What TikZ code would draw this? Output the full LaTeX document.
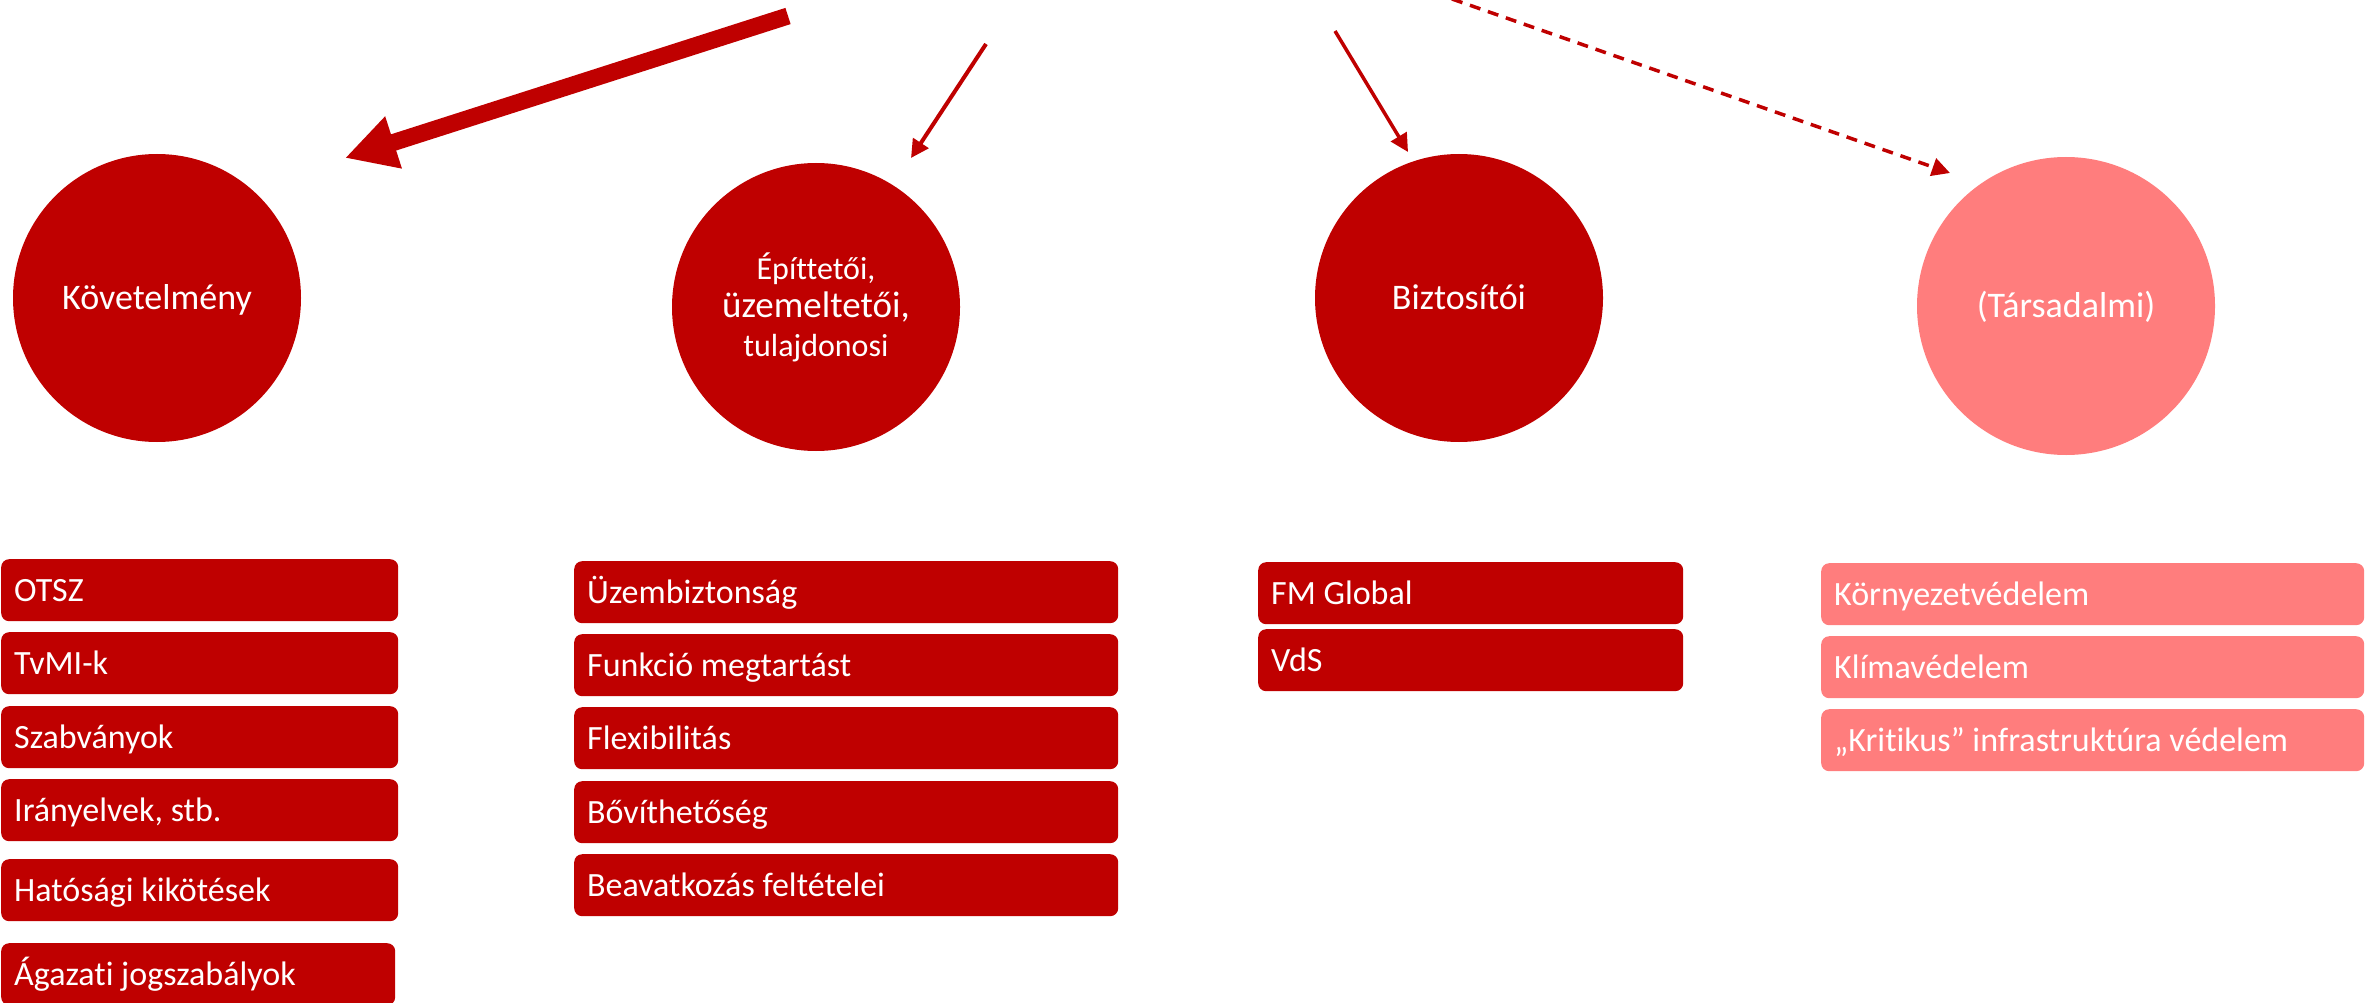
\documentclass[tikz,border=0pt]{standalone}
\usepackage{fontspec}
\setmainfont{Carlito}[Ligatures=NoCommon]
\usetikzlibrary{arrows.meta}

\begin{document}
\begin{tikzpicture}[x=1pt,y=-1pt]
  % Colors
  \colorlet{mainred}{red!75!black}
  \colorlet{lightred}{red!51!white}

  % Styles
  \tikzstyle{topic}=[circle,fill=mainred,text=white,minimum size=288pt,inner sep=0pt,
    text height=22pt,text depth=0pt,font=\fontsize{36}{40}\selectfont]
  \tikzstyle{item}=[rectangle,rounded corners=8pt,fill=mainred,text=white,anchor=north west,
    minimum height=62pt,inner xsep=13pt,inner ysep=0pt,align=flush left,
    text height=22pt,text depth=0pt,font=\fontsize{34}{40}\selectfont]
  \tikzstyle{thin arrow}=[draw=mainred,line width=4pt,-{Triangle[length=18pt,width=18pt]}]

  \useasboundingbox (0,0) rectangle (2374,1003);

  % Circles
  \node[topic] (kov) at (157,298) {Követelmény};
  \node[topic,align=center,text height=,text depth=,font=\fontsize{32}{38.5}\selectfont]
    (epit) at (816,307) {Építtetői,\\{\fontsize{37}{38.5}\selectfont üzemeltetői,}\\tulajdonosi};
  \node[topic] (bizt) at (1459,298) {Biztosítói};
  \node[topic,fill=lightred,minimum size=298pt] (tars) at (2066,306) {(Társadalmi)};

  % Arrows
  \coordinate (kovfrom) at (788,16);
  \coordinate (kovto) at (345,158);
  \coordinate (epitfrom) at (986,44);
  \coordinate (epitto) at (911,158);
  \coordinate (biztfrom) at (1335,31);
  \coordinate (biztto) at (1408,152);
  \coordinate (tarsfrom) at (1452,-1);
  \coordinate (tarsto) at (1950,173);
  \draw[draw=mainred,line width=17pt,-{Triangle[length=51pt,width=51pt]}] (kovfrom) -- (kovto);
  \draw[thin arrow] (epitfrom) -- (epitto);
  \draw[thin arrow,line width=3.5pt] (biztfrom) -- (biztto);
  \draw[thin arrow,line width=3.5pt,dash pattern=on 11pt off 8pt] (tarsfrom) -- (tarsto);

  % Lists
  \node[item,text width=371pt] (kov1) at (1,559) {OTSZ};
  \node[item,text width=371pt] (kov2) at (1,632) {TvMI-k};
  \node[item,text width=371pt] (kov3) at (1,706) {Szabványok};
  \node[item,text width=371pt] (kov4) at (1,779) {Irányelvek, stb.};
  \node[item,text width=371pt] (kov5) at (1,859) {Hatósági kikötések};
  \node[item,text width=368pt] (kov6) at (1,943) {Ágazati jogszabályok};

  \node[item,text width=518pt] (epit1) at (574,561) {Üzembiztonság};
  \node[item,text width=518pt] (epit2) at (574,634) {Funkció megtartást};
  \node[item,text width=518pt] (epit3) at (574,707) {Flexibilitás};
  \node[item,text width=518pt] (epit4) at (574,781) {Bővíthetőség};
  \node[item,text width=518pt] (epit5) at (574,854) {Beavatkozás feltételei};

  \node[item,text width=399pt] (bizt1) at (1258,562) {FM Global};
  \node[item,text width=399pt] (bizt2) at (1258,629) {VdS};

  \node[item,fill=lightred,text width=517pt] (tars1) at (1821,563) {Környezetvédelem};
  \node[item,fill=lightred,text width=517pt] (tars2) at (1821,636) {Klímavédelem};
  \node[item,fill=lightred,text width=517pt] (tars3) at (1821,709) {„Kritikus” infrastruktúra védelem};
\end{tikzpicture}
\end{document}
